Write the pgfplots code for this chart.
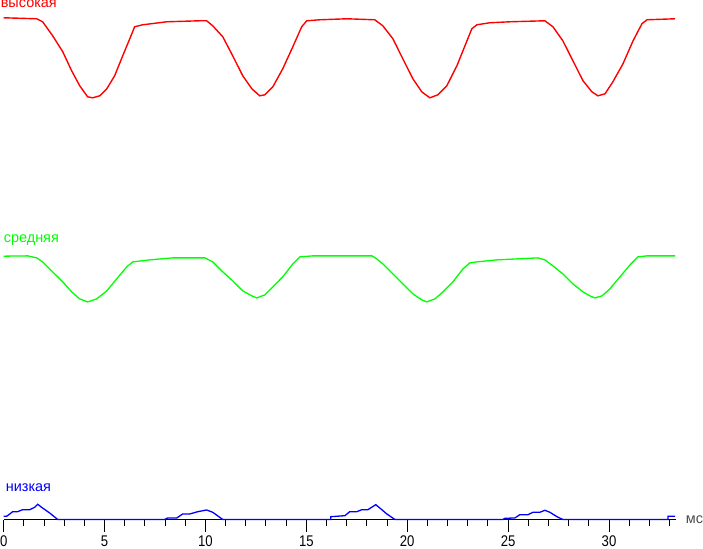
\documentclass[border=0pt]{standalone}
\usepackage{pgfplots}
\pgfplotsset{compat=1.18}
\usepackage{fontspec}
\setmainfont{Liberation Sans}
\newfontfamily\tickfont[FakeStretch=0.85]{Liberation Sans}
\definecolor{cred}{RGB}{255,0,0}
\definecolor{cgreen}{RGB}{0,255,0}
\definecolor{cblue}{RGB}{0,0,255}
\begin{document}
\begin{tikzpicture}
\begin{axis}[
  scale only axis,
  width=671.7bp, height=521bp,
  xmin=0, xmax=33.3, ymin=0, ymax=521,
  axis x line=bottom, axis y line=none,
  x axis line style={-, black, line width=1bp},
  ytick=\empty,
  xtick={0,5,10,15,20,25,30},
  minor xtick={1,2,3,4,6,7,8,9,11,12,13,14,16,17,18,19,21,22,23,24,26,27,28,29,31,32,33},
  tick align=outside,
  major tick length=12bp, minor tick length=6bp,
  every tick/.style={black, line width=1bp},
  /pgf/number format/assume math mode=true,
  xticklabel style={font=\tickfont\fontsize{15.5}{16}\selectfont, inner xsep=0pt, inner ysep=1bp, yshift=-3bp},
  clip=false,
]
\addplot[cred, line width=1.4bp] coordinates {
(0,502)(1.64,501)(1.93,498)(2.43,484)(2.93,468)(3.37,449)(3.77,434)(4.16,423)(4.41,422)(4.76,424)
(5.11,431)(5.50,444)(5.90,464)(6.25,481)(6.49,493)(6.89,495)(8.08,498)(9.72,499)(10.06,499)
(10.36,494)(10.86,483)(11.35,464)(11.85,444)(12.30,431)(12.69,424)(12.94,425)(13.34,433)
(13.83,451)(14.33,473)(14.77,493)(15.02,499)(15.67,500)(17.01,501)(18.39,500)(18.79,494)
(19.29,481)(19.78,461)(20.28,441)(20.72,428)(21.12,422)(21.52,425)(21.96,434)(22.46,454)
(22.86,474)(23.20,491)(23.45,495)(24.09,497)(25.09,498)(26.82,499)(27.22,493)(27.71,479)
(28.21,459)(28.71,439)(29.15,428)(29.45,424)(29.80,426)(30.19,438)(30.69,456)(31.19,479)
(31.63,496)(31.88,500)(33.27,501)
};
\addplot[cgreen, line width=1.3bp] coordinates {
(0,263.7)(1.19,264)(1.64,262)(1.93,258)(2.43,248)(2.93,238)(3.37,228)(3.77,221)(4.16,218)
(4.61,221)(5.11,229)(5.60,241)(6.10,253)(6.40,258)(7.24,260)(8.38,262)(9.97,262)(10.36,258)
(10.86,248)(11.35,239)(11.85,229)(12.30,224)(12.54,222)(12.94,225)(13.34,233)(13.83,243)
(14.33,256)(14.68,263)(15.32,264)(18.25,264)(18.49,261)(18.79,256)(19.29,246)(19.78,236)
(20.28,226)(20.72,220)(20.97,218)(21.37,221)(21.77,228)(22.26,238)(22.76,251)(23.10,257)
(23.45,258)(24.44,260)(26.47,262)(26.82,260)(27.22,254)(27.71,246)(28.21,236)(28.71,228)
(29.05,224)(29.30,222)(29.65,224)(30.04,231)(30.54,243)(31.04,255)(31.43,263)(31.88,264)
(33.27,264)
};
\addplot[cblue, line width=1.3bp] coordinates {
(0,3.7)(0.15,3.7)(0.45,8.3)(0.69,8.3)(0.94,10.3)(1.29,10.3)(1.54,12.7)(1.69,15.7)(1.88,12.7)
(2.28,7)(2.68,0.5)(7.98,0.5)(8.13,2)(8.58,2)(8.87,6)(9.22,6)(9.62,8.3)(10.06,10)(10.36,7.7)
(10.86,0.5)(16.21,0.5)(16.21,3.3)(16.91,4.3)(17.15,8.3)(17.50,8.3)(17.75,10.3)(18.05,10.3)
(18.44,15.3)(18.74,10.3)(18.99,6)(19.39,0.5)(24.74,0.5)(24.84,1.7)(25.33,2)(25.58,5.3)
(25.98,5.3)(26.23,7.7)(26.57,7.7)(26.82,9.7)(27.07,7.7)(27.42,3.3)(27.71,0.5)(32.92,0.5)
(32.92,3.7)(33.27,3.7)
};
\node[anchor=base west, inner sep=0pt, text=cred, font=\fontsize{14.5}{15}\selectfont] at (axis cs:-0.15,512) {высокая};
\node[anchor=base west, inner sep=0pt, text=cgreen, font=\fontsize{14.5}{15}\selectfont] at (axis cs:0,277) {средняя};
\node[anchor=base west, inner sep=0pt, text=cblue, font=\fontsize{14.5}{15}\selectfont] at (axis cs:0.1,28) {низкая};
\node[anchor=west, inner sep=0pt, text=black!70, font=\fontsize{14.5}{15}\selectfont] at (axis cs:33.3,0) [xshift=10bp] {мс};
\end{axis}
\end{tikzpicture}
\end{document}
